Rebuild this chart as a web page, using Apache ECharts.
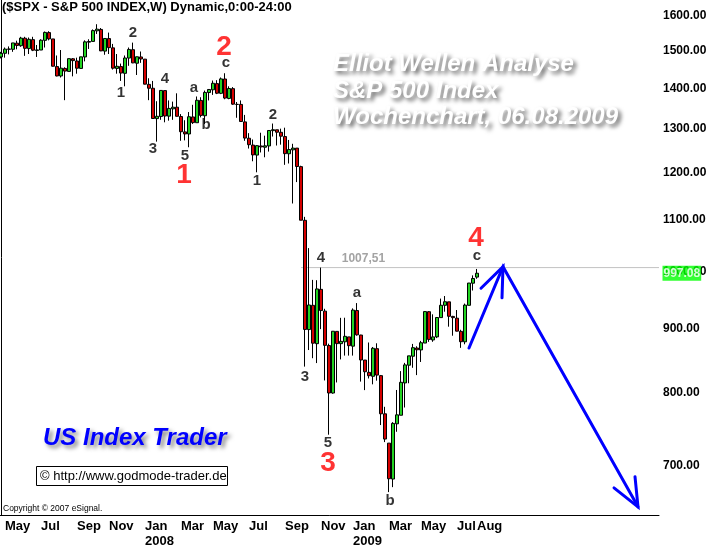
<!DOCTYPE html>
<html><head><meta charset="utf-8">
<script src="https://cdn.jsdelivr.net/npm/echarts@6/dist/echarts.min.js"></script>
<style>html,body{margin:0;padding:0;background:#fff}#c{width:710px;height:548px}</style>
</head><body><div id="c"></div>
<script>
// ---- DATA ----
// weekly candles [open, close, low, high], first week ending 2007-04-27
const ohlc2007 = [
[1484,1494.07,1480,1498],[1494,1505.62,1482,1510],[1505,1505.85,1491,1513],[1505,1522.75,1498,1522.8],
[1522,1515.73,1505,1529],[1515,1536.34,1512,1540],[1536,1507.67,1487,1540],[1507,1532.91,1492,1538],
[1532,1502.56,1500,1540],[1502,1503.35,1484,1517],[1503,1530.44,1503,1533],[1530,1552.5,1510,1555],
[1552,1534.1,1530,1555.9],[1534,1458.95,1458,1534],[1458,1433.06,1432,1488],[1433,1453.64,1429,1503],
[1453,1445.94,1370.6,1456],[1445,1479.37,1445,1479.9],[1479,1473.99,1432,1481],[1473,1453.55,1439,1482],
[1453,1484.25,1453,1484.5],[1484,1525.75,1472,1530],[1525,1526.75,1506,1533],[1527,1557.59,1527,1561],
[1557,1561.8,1548,1576],[1561,1500.63,1500,1565],[1500,1535.28,1490,1535.3],[1535,1509.65,1492,1552],
[1509,1453.7,1450,1520],[1453,1458.74,1439,1492],[1458,1440.7,1420,1466],[1440,1481.14,1406,1488],
[1481,1504.66,1460,1510],[1504,1467.95,1467,1523.6],[1467,1484.46,1435.6,1485],[1484,1478.49,1468,1498.9]
];
const ohlc2008 = [
[1478,1411.63,1411,1478.5],[1411,1401.02,1370.6,1427],[1401,1325.19,1324,1420],[1325,1330.61,1270,1368],
[1330,1395.42,1322,1396],[1395,1331.29,1316,1395],[1331,1349.99,1320,1370],[1349,1353.11,1322,1367],
[1353,1330.63,1330,1388],[1330,1293.37,1272,1336],[1293,1288.14,1273,1321],[1288,1329.51,1256.98,1341],
[1329,1315.22,1312,1359],[1315,1370.4,1315,1380],[1370,1332.83,1328,1378],[1332,1390.33,1312,1395],
[1390,1397.84,1370,1399],[1397,1413.9,1384,1421],[1413,1388.28,1386,1422],[1388,1425.35,1386,1429],
[1425,1375.93,1373,1440.2],[1375,1400.38,1373,1406],[1400,1360.68,1359,1404],[1360,1360.03,1327,1366],
[1360,1317.93,1317,1370],[1317,1278.38,1272,1334],[1278,1262.9,1254,1290],[1262,1239.49,1225,1275],
[1239,1260.68,1200.4,1262],[1260,1257.76,1245,1291],[1257,1260.31,1234,1284],[1260,1296.32,1247,1297],
[1296,1298.2,1282,1313],[1298,1292.2,1261,1298],[1292,1282.83,1263,1300.7],[1282,1242.31,1217,1303],
[1242,1251.7,1220,1274],[1251,1255.08,1133.5,1265],[1255,1213.27,1179,1255],[1213,1099.23,1099,1215],
[1099,899.22,839.8,1106],[899,940.55,865.8,1044.3],[940,876.77,852.9,985],[876,968.75,845.3,984.4],
[968,930.99,899.7,1007.51],[930,873.29,818.7,934],[873,800.03,741,876],[800,896.24,799,896.3],
[896,876.07,815.7,896],[876,879.73,851,918.6],[879,887.88,857,918.8],[887,872.8,857,887]
];
const ohlc2009 = [
[872,931.8,857,934.7],[931,890.35,889,943.85],[890,850.12,817,890.4],[850,831.95,804.3,850],
[831,825.88,821.7,877.9],[825,868.6,812.9,870.7],[868,826.84,818.4,876.6],[826,770.05,754.25,827],
[770,735.09,731,780],[729.6,683.38,666.79,729.6],[683,756.55,672.88,758.3],[756,768.54,745,804.5],
[768,815.94,768,832.9],[815,842.5,779,845.6],[842,856.56,814.5,856.6],[856,869.6,838,875.6],
[869,866.23,826.8,871.8],[866,877.52,847,880.5],[877,929.23,877,930.2],[929,882.88,878.9,930],
[882,887,879,924.6],[887,919.14,885,920],[919,940.09,919,951.7],[940,946.21,929,956.2],
[946,921.23,903.8,946],[921,918.9,888.9,922],[918,896.42,896,931.9],[896,879.13,869.3,898.7],
[879,940.38,875,943],[940,979.26,940,979.4],[979,987.48,965.95,993.2],[990,997.08,987,1005]
];
const futureWeeks = 45;            // empty weeks right of the last candle
const yTicks = [700,800,900,1000,1100,1200,1300,1400,1500,1600];
const monthLabels = {
 '2007-05-04':'May','2007-07-06':'Jul','2007-09-07':'Sep','2007-11-02':'Nov',
 '2008-01-04':'Jan','2008-03-07':'Mar','2008-05-02':'May','2008-07-04':'Jul',
 '2008-09-05':'Sep','2008-11-07':'Nov','2009-01-02':'Jan','2009-03-06':'Mar',
 '2009-05-01':'May','2009-07-03':'Jul','2009-08-07':'Aug'
};
const yearLabels = {'2008-01-04':'2008','2009-01-02':'2009'};
// Elliott wave labels: [week index, price, text]
const waveBlack = [
 [33,1551,'2'],[30,1389,'1'],[41,1425,'4'],[38,1253,'3'],[46,1237,'5'],
 [48.25,1402,'a'],[51.25,1310,'b'],[56.25,1468,'c'],[68,1334,'2'],[64,1181,'1'],
 [80,1025,'4'],[76,824,'3'],[81.75,730,'5'],[89,961.5,'a'],[97.25,656,'b'],[119,1029,'c']
];
const waveRed = [[45.75,1194.5,'1'],[55.75,1511,'2'],[81.75,703.5,'3'],[118.75,1064,'4']];
const resistance = 1007.51;
const resistanceStart = 75;
const resistanceText = [[90.6,1023.6,'1007,51']];
const lastClose = 997.08;
// projected path (week index, price)
const arrowPath = [[117,869],[125.5,1009],[159.25,649]];
const arrowHeadTop = [[120,970],[125.5,1009],[125.25,953]];
const arrowHeadEnd = [[153.25,672],[159.25,649],[158.5,686]];

// ---- BUILD ----
const candles = [...ohlc2007, ...ohlc2008, ...ohlc2009];
const nWeeks = candles.length + futureWeeks;
const weeks = [];
const t0 = Date.UTC(2007, 3, 27);
for (let k = 0; k < nWeeks; k++) weeks.push(new Date(t0 + k * 7 * 864e5).toISOString().slice(0, 10));
const xMax = nWeeks - 0.5;

const FONT = 'Liberation Sans, Arial, sans-serif';
const chart = echarts.init(document.getElementById('c'), null, {renderer: 'canvas'});
const labelSeries = (arr, color, size, weight) => ({
  type: 'scatter', xAxisIndex: 1, yAxisIndex: 0, silent: true, z: 6, clip: false,
  symbolSize: 1, itemStyle: {color: 'transparent'},
  data: arr.map(([x, y, t]) => ({value: [x, y], name: t})),
  label: {show: true, position: 'inside', formatter: '{b}', color, fontSize: size, fontWeight: weight, fontFamily: FONT,
          textBorderWidth: 0}
});
const arrowSeries = (data) => ({
  type: 'line', xAxisIndex: 1, yAxisIndex: 0, data, symbol: 'none', silent: true, clip: false, z: 7,
  lineStyle: {color: '#0000ff', width: 3, cap: 'round', join: 'miter'}
});

chart.setOption({
  animation: false,
  backgroundColor: '#ffffff',
  grid: {left: -1, right: 51, top: 0, bottom: 33, containLabel: false, outerBoundsMode: 'none'},
  xAxis: [{
    type: 'category', data: weeks, boundaryGap: true,
    axisLine: {show: true, lineStyle: {color: '#000', width: 1}},
    axisTick: {show: false}, splitLine: {show: false},
    axisLabel: {
      interval: (i, v) => monthLabels[v] !== undefined,
      formatter: v => monthLabels[v] ? monthLabels[v] + (yearLabels[v] ? '\n' + yearLabels[v] : '') : '',
      align: 'left', verticalAlign: 'top', margin: 4, lineHeight: 15, hideOverlap: false,
      color: '#000', fontWeight: 'bold', fontSize: 13, fontFamily: FONT
    }
  }, {
    type: 'value', min: -0.5, max: xMax, show: false
  }],
  yAxis: [{
    type: 'log', logBase: 10, position: 'right', min: 639.3, max: 1647.8,
    axisLine: {show: true, lineStyle: {color: '#000', width: 1}},
    axisTick: {show: false}, splitLine: {show: false}, minorTick: {show: false},
    axisLabel: {
      customValues: yTicks, formatter: v => Number(v).toFixed(2), margin: 4,
      color: '#000', fontWeight: 'bold', fontSize: 12, fontFamily: FONT
    }
  }],
  series: [
    {type: 'line', xAxisIndex: 1, yAxisIndex: 0, silent: true, symbol: 'none', z: 1,
     data: [[resistanceStart, resistance], [xMax, resistance]],
     lineStyle: {color: '#c3c3c3', width: 1}},
    {type: 'candlestick', xAxisIndex: 0, yAxisIndex: 0, data: candles, barWidth: 3, z: 3,
     itemStyle: {color: '#22d422', color0: '#d40000', borderColor: '#000', borderColor0: '#000', borderColorDoji: '#000', borderWidth: 1}},
    labelSeries(waveBlack, '#000', 15, 'bold'),
    labelSeries(waveRed, '#ff0000', 28, 'bold'),
    labelSeries(resistanceText, '#8c8c8c', 12, 'bold'),
    arrowSeries(arrowPath), arrowSeries(arrowHeadTop), arrowSeries(arrowHeadEnd),
    {type: 'scatter', xAxisIndex: 1, yAxisIndex: 0, silent: true, clip: false, z: 10, zlevel: 1,
     symbolSize: 1, itemStyle: {color: 'transparent'},
     data: [[xMax, lastClose]],
     label: {show: true, position: 'right', distance: 3, formatter: p => p.value[1].toFixed(2),
       color: '#ffffff', backgroundColor: '#00ff00', padding: [2, 1, 1, 1],
       fontSize: 12, fontWeight: 'bold', fontFamily: FONT}}
  ],
  graphic: [
    {type: 'text', left: 2, top: 1, silent: true,
     style: {text: '($SPX - S&P 500 INDEX,W) Dynamic,0:00-24:00', fill: '#000', font: 'bold 13px ' + FONT}},
    {type: 'group', silent: true, children: [
      {type: 'text', x: 333, y: 64, style: {text: 'Elliot Wellen Analyse', fill: '#ffffff', font: 'italic bold 24px ' + FONT,
        textVerticalAlign: 'middle', textShadowColor: 'rgba(0,0,0,0.6)', textShadowBlur: 4, textShadowOffsetX: 3, textShadowOffsetY: 3}},
      {type: 'text', x: 333, y: 91, style: {text: 'S&P 500 Index', fill: '#ffffff', font: 'italic bold 24px ' + FONT,
        textVerticalAlign: 'middle', textShadowColor: 'rgba(0,0,0,0.6)', textShadowBlur: 4, textShadowOffsetX: 3, textShadowOffsetY: 3}},
      {type: 'text', x: 333, y: 117, style: {text: 'Wochenchart, 06.08.2009', fill: '#ffffff', font: 'italic bold 24px ' + FONT,
        textVerticalAlign: 'middle', textShadowColor: 'rgba(0,0,0,0.6)', textShadowBlur: 4, textShadowOffsetX: 3, textShadowOffsetY: 3}},
      {type: 'text', x: 43, y: 438, style: {text: 'US Index Trader', fill: '#0000ff', font: 'italic bold 24px ' + FONT,
        textVerticalAlign: 'middle', textShadowColor: 'rgba(0,0,0,0.5)', textShadowBlur: 4, textShadowOffsetX: 3, textShadowOffsetY: 3}},
      {type: 'rect', shape: {x: 36.5, y: 466.5, width: 191, height: 19}, style: {fill: '#fff', stroke: '#000', lineWidth: 1}},
      {type: 'text', x: 40, y: 476.5, style: {text: '\u00a9 http://www.godmode-trader.de', fill: '#000', font: '13px ' + FONT, textVerticalAlign: 'middle'}},
      {type: 'text', x: 3, y: 509, style: {text: 'Copyright \u00a9 2007 eSignal.', fill: '#000', font: '8.5px ' + FONT, textVerticalAlign: 'middle'}}
    ]}
  ]
});
</script></body></html>
